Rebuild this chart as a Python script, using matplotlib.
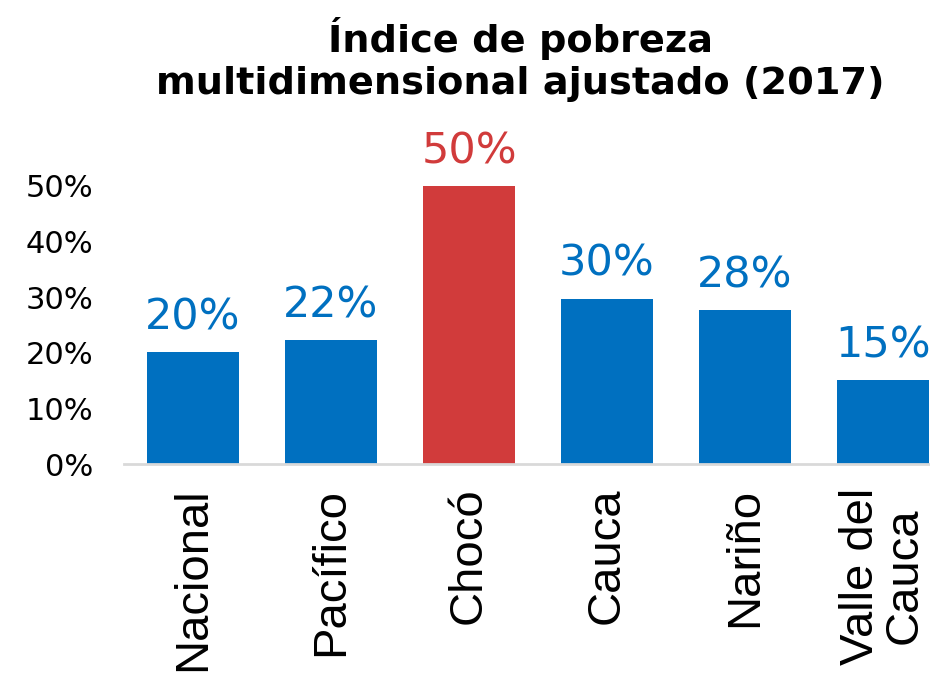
import matplotlib
matplotlib.use("Agg")
import matplotlib.pyplot as plt

# data
regiones = ['Nacional', 'Pacífico', 'Chocó', 'Cauca', 'Nariño', 'Valle del\nCauca']
indice = [0.201, 0.223, 0.50, 0.297, 0.277, 0.151]
colores = ['#0070C0', '#0070C0', '#D13B3B', '#0070C0', '#0070C0', '#0070C0']
ticks = [0, 0.1, 0.2, 0.3, 0.4, 0.5]

fig = plt.figure(figsize=(9.3, 6.77), dpi=100)
ax = fig.add_axes([124 / 930, 213 / 677, 806 / 930, 333.6 / 677])

x = range(len(regiones))
bars = ax.bar(x, indice, width=0.667, color=colores)

for b, v, c in zip(bars, indice, colores):
    ax.annotate(f'{v:.0%}', (b.get_x() + b.get_width() / 2, v),
                xytext=(0, 10), textcoords='offset points',
                ha='center', va='bottom', fontsize=31, color=c)

ax.set_xlim(-0.5, 5.34)
ax.set_ylim(0, 0.6)
ax.set_yticks(ticks)
ax.set_yticklabels([f'{t:.0%}' for t in ticks], fontsize=22)
ax.tick_params(axis='y', length=0, pad=22)
ax.set_xticks(list(x))
ax.set_xticklabels(regiones, rotation=90, fontsize=34, family='Liberation Sans',
                   linespacing=1.0)
ax.tick_params(axis='x', length=0, pad=17)

for s in ['top', 'right', 'left']:
    ax.spines[s].set_visible(False)
ax.spines['bottom'].set_color('#D9D9D9')
ax.spines['bottom'].set_linewidth(2)

fig.text(520 / 930, 0.975, 'Índice de pobreza\nmultidimensional ajustado (2017)',
         ha='center', va='top', fontsize=27.5, fontweight='bold', linespacing=1.2)

fig.savefig('out.png', dpi=100)
